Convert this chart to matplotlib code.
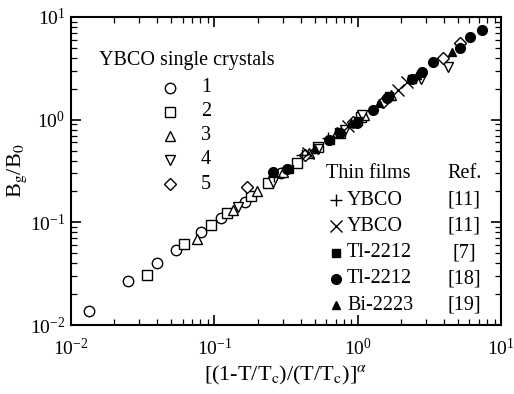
import numpy as np
import matplotlib
matplotlib.use("Agg")
import matplotlib.pyplot as plt

plt.rcParams['font.family'] = ['Liberation Serif', 'DejaVu Serif']
plt.rcParams['mathtext.fontset'] = 'stix'

# YBCO single crystals (open symbols)
s1_x = [0.0134, 0.025, 0.040, 0.054, 0.081, 0.111, 0.164, 0.29]
s1_y = [0.0137, 0.027, 0.040, 0.054, 0.081, 0.110, 0.158, 0.30]
s2_x = [0.034, 0.0615, 0.095, 0.123, 0.18, 0.237, 0.378, 0.53, 0.75, 1.05]
s2_y = [0.031, 0.062, 0.094, 0.124, 0.18, 0.242, 0.378, 0.54, 0.74, 1.05]
s3_x = [0.076, 0.135, 0.198, 0.30, 0.46, 0.72, 1.1, 1.7]
s3_y = [0.069, 0.133, 0.200, 0.31, 0.47, 0.75, 1.1, 1.75]
s4_x = [0.146, 0.256, 0.53, 0.82, 1.07, 2.75, 4.27]
s4_y = [0.140, 0.245, 0.52, 0.80, 1.10, 2.50, 3.26]
s5_x = [0.169, 0.43, 0.92, 1.5, 3.9, 5.2]
s5_y = [0.221, 0.45, 0.95, 1.5, 4.0, 5.6]

# Thin films (filled / line symbols)
plus_x = [0.26, 0.41, 0.62, 1.6]
plus_y = [0.28, 0.45, 0.66, 1.62]
cross_x = [0.45, 0.85, 1.9, 2.2]
cross_y = [0.47, 0.86, 1.95, 2.33]
tlsq_x = [0.33, 0.64, 1.0, 1.65, 2.4]
tlsq_y = [0.33, 0.64, 0.97, 1.70, 2.5]
tlci_x = [0.256, 0.32, 0.63, 0.75, 0.99, 1.28, 1.6, 2.4, 2.8, 3.36, 5.2, 6.1, 7.4]
tlci_y = [0.31, 0.33, 0.63, 0.74, 0.93, 1.24, 1.63, 2.5, 2.9, 3.65, 5.0, 6.4, 7.5]
bi_x = [0.5, 0.9, 1.4, 2.6, 4.56]
bi_y = [0.52, 0.92, 1.45, 2.7, 4.56]

crystal_labels = ['1', '2', '3', '4', '5']
film_names = ['YBCO', 'YBCO', 'Tl-2212', 'Tl-2212', 'Bi-2223']
film_refs = ['[11]', '[11]', '[7]', '[18]', '[19]']

fig = plt.figure(figsize=(5.14, 3.94), dpi=100)
ax = fig.add_axes([0.138, 0.175, 0.837, 0.782])

open_kw = dict(linestyle='none', markerfacecolor='white', markeredgecolor='black',
               markeredgewidth=1.0, markersize=7.5)
ax.plot(s1_x, s1_y, marker='o', **open_kw)
ax.plot(s2_x, s2_y, marker='s', **dict(open_kw, markersize=7))
ax.plot(s3_x, s3_y, marker='^', **open_kw)
ax.plot(s4_x, s4_y, marker='v', **open_kw)
ax.plot(s5_x, s5_y, marker='D', **dict(open_kw, markersize=6.5))

ax.plot(plus_x, plus_y, marker='+', linestyle='none', color='black', markersize=9, markeredgewidth=1.0)
ax.plot(cross_x, cross_y, marker='x', linestyle='none', color='black', markersize=8, markeredgewidth=1.0)
ax.plot(tlsq_x, tlsq_y, marker='s', linestyle='none', color='black', markersize=5.5)
ax.plot(tlci_x, tlci_y, marker='o', linestyle='none', color='black', markersize=7)
ax.plot(bi_x, bi_y, marker='^', linestyle='none', color='black', markersize=6)

ax.set_xscale('log')
ax.set_yscale('log')
ax.set_xlim(1e-2, 1e1)
ax.set_ylim(1e-2, 1e1)
ax.tick_params(which='both', direction='in', top=True, right=True, labelsize=14)
ax.tick_params(which='major', length=7, width=1.2)
ax.tick_params(which='minor', length=4, width=0.9)
ax.tick_params(axis='x', pad=9)
ax.tick_params(axis='y', pad=4)
for sp in ax.spines.values():
    sp.set_linewidth(1.5)

ax.set_xlabel(r'[(1-T/T$_{\rm c}$)/(T/T$_{\rm c}$)]$^{\alpha}$', fontsize=16, labelpad=4)
ax.set_ylabel(r'B$_{\rm g}$/B$_0$', fontsize=16, labelpad=1)


# hand-made legends, positions in pixel of the figure converted to axes fraction
def axp(px, py):
    return (px - 71) / 430.0, (325 - py) / 308.0


tr = ax.transAxes
ax.text(*axp(99, 61), 'YBCO single crystals', transform=tr, fontsize=14.5, va='center', ha='left')
crystal_markers = [('o', 7.5), ('s', 7), ('^', 7.5), ('v', 7.5), ('D', 6.5)]
for i, (lab, (m, ms)) in enumerate(zip(crystal_labels, crystal_markers)):
    yy = 88 + i * 24
    ax.plot(*axp(170, yy), marker=m, transform=tr, clip_on=False,
            **dict(open_kw, markersize=ms))
    ax.text(*axp(201, yy), lab, transform=tr, fontsize=14.5, va='center', ha='left')

ax.text(*axp(326, 174), 'Thin films', transform=tr, fontsize=14.5, va='center', ha='left')
ax.text(*axp(447, 174), 'Ref.', transform=tr, fontsize=14.5, va='center', ha='left')
film_markers = [('+', 9, 'none'), ('x', 8, 'none'), ('s', 5.5, 'black'), ('o', 7, 'black'), ('^', 6, 'black')]
for i, (name, ref, (m, ms, fc)) in enumerate(zip(film_names, film_refs, film_markers)):
    yy = 200 + i * 26.3
    ax.plot(*axp(336, yy), marker=m, color='black', markersize=ms, markeredgewidth=1.0,
            transform=tr, clip_on=False)
    ax.text(*axp(347, yy), name, transform=tr, fontsize=14.5, va='center', ha='left')
    ax.text(*axp(464, yy), ref, transform=tr, fontsize=14.5, va='center', ha='center')

fig.savefig('out.png', dpi=100)
